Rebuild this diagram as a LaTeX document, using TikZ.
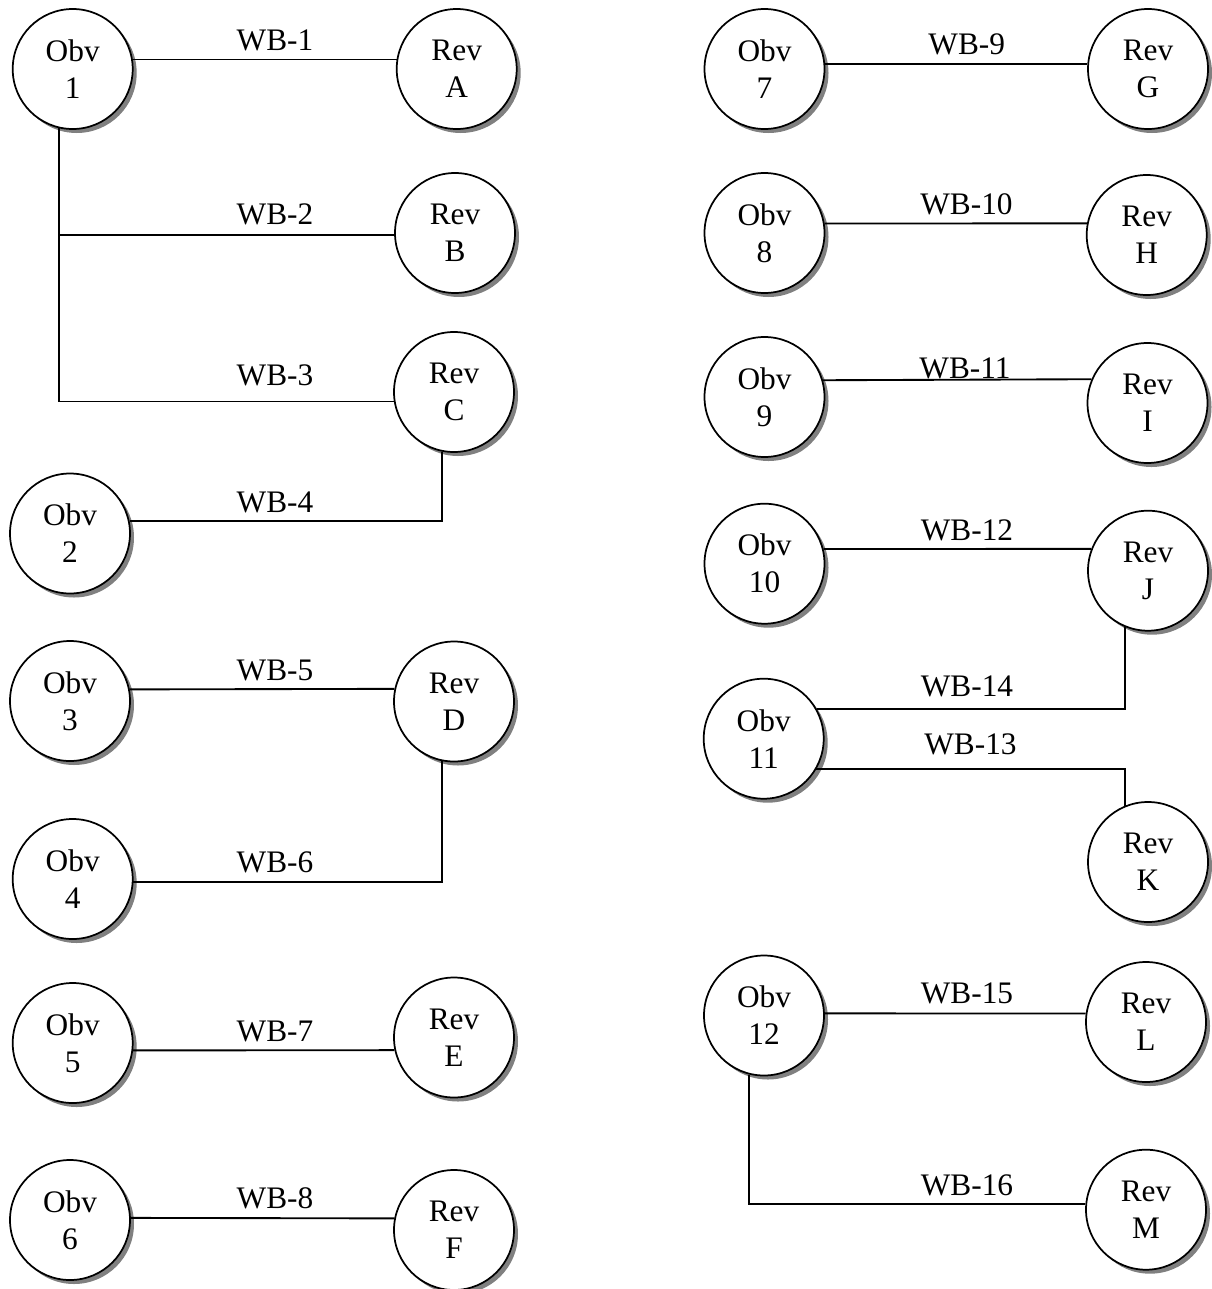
\documentclass[tikz,border=0pt]{standalone}
\usepackage{fontspec}
\setmainfont{Liberation Serif}
\usetikzlibrary{shadows}

\begin{document}
\begin{tikzpicture}[x=0.75pt, y=-0.75pt, font=\fontsize{23.5}{27.75}\selectfont,
        coin/.style={circle, draw, line width=1.3pt, fill=white, minimum size=90pt, inner sep=0pt, align=center,
            drop shadow={shadow xshift=3pt, shadow yshift=-3pt, fill=black!50, opacity=1}},
        wire/.style={line width=1.4pt},
        wb/.style={anchor=base, inner sep=0pt}]

        \useasboundingbox (0,0) rectangle (1211,1289);

        % left half
        \node[coin] (obv1) at (72.7,69) {Obv\\1};
        \node[coin] (revA) at (456.7,69) {Rev\\A};
        \node[coin] (revB) at (455,233) {Rev\\B};
        \node[coin] (revC) at (454,392) {Rev\\C};
        \node[coin] (obv2) at (70,533.5) {Obv\\2};
        \node[coin] (obv3) at (70,701) {Obv\\3};
        \node[coin] (revD) at (454,701.5) {Rev\\D};
        \node[coin] (obv4) at (72.7,879) {Obv\\4};
        \node[coin] (obv5) at (72.7,1043) {Obv\\5};
        \node[coin] (revE) at (454,1037.5) {Rev\\E};
        \node[coin] (obv6) at (70,1220) {Obv\\6};
        \node[coin] (revF) at (454,1230) {Rev\\F};

        % right half
        \node[coin] (obv7) at (764.5,69) {Obv\\7};
        \node[coin] (revG) at (1148,69) {Rev\\G};
        \node[coin] (obv8) at (764.5,233) {Obv\\8};
        \node[coin] (revH) at (1146.7,235) {Rev\\H};
        \node[coin] (obv9) at (764.5,397) {Obv\\9};
        \node[coin] (revI) at (1147.5,403) {Rev\\I};
        \node[coin] (obv10) at (764.5,563.7) {Obv\\10};
        \node[coin] (revJ) at (1148,570.7) {Rev\\J};
        \node[coin] (obv11) at (763.7,738.7) {Obv\\11};
        \node[coin] (revK) at (1148,862) {Rev\\K};
        \node[coin] (obv12) at (764,1015.5) {Obv\\12};
        \node[coin] (revL) at (1146,1022) {Rev\\L};
        \node[coin] (revM) at (1146,1209.7) {Rev\\M};

        \draw[wire] (obv1.9) -- (revA.171);
        \draw[wire] (obv1.257) |- (revC.189);
        \draw[wire] (obv1.257 |- revB.182) -- (revB.182);
        \draw[wire] (obv2.12) -| (revC.259);
        \draw[wire] (obv3.11) -- (revD.168);
        \draw[wire] (obv4.357) -| (revD.259);
        \draw[wire] (obv5.353) -- (revE.192);
        \draw[wire] (obv6.2) -- (revF.169);
        \draw[wire] (obv7.5) -- (revG.175);
        \draw[wire] (obv8.9) -- (revH.169);
        \draw[wire] (obv9.16) -- (revI.157);
        \draw[wire] (obv10.14) -- (revJ.159);
        \draw[wire] (obv11.29) -| (revJ.248);
        \draw[wire] (obv11.330) -| (revK.112);
        \draw[wire] (obv12.2) -- (revL.172);
        \draw[wire] (obv12.256) |- (revM.175);

        % wire labels
        \node[wb] (wb1) at (275,50) {WB-1};
        \node[wb] (wb2) at (275,224) {WB-2};
        \node[wb] (wb3) at (275,385) {WB-3};
        \node[wb] (wb4) at (275,512.7) {WB-4};
        \node[wb] (wb5) at (275,680.7) {WB-5};
        \node[wb] (wb6) at (275,872.7) {WB-6};
        \node[wb] (wb7) at (275,1041) {WB-7};
        \node[wb] (wb8) at (275,1208) {WB-8};
        \node[wb] (wb9) at (966.7,54) {WB-9};
        \node[wb] (wb10) at (966.5,214) {WB-10};
        \node[wb] (wb11) at (965,378) {WB-11};
        \node[wb] (wb12) at (967,540) {WB-12};
        \node[wb] (wb14) at (967,696.7) {WB-14};
        \node[wb] (wb13) at (970.5,754) {WB-13};
        \node[wb] (wb15) at (967,1003.3) {WB-15};
        \node[wb] (wb16) at (967,1195) {WB-16};
    \end{tikzpicture}
\end{document}
